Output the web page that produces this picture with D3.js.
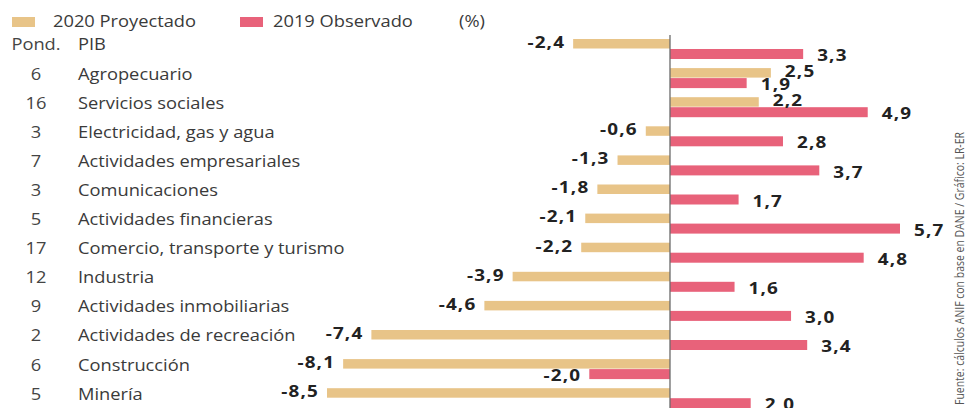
<!DOCTYPE html>
<html>
<head>
<meta charset="utf-8">
<script src="https://cdn.jsdelivr.net/npm/d3@7"></script>
<style>
  body { margin: 0; background: #fff; }
  svg text { font-family: "Open Sans", sans-serif; }
</style>
</head>
<body>
<div id="chart"></div>
<script>
// Data
const categories = ["PIB", "Agropecuario", "Servicios sociales", "Electricidad, gas y agua",
  "Actividades empresariales", "Comunicaciones", "Actividades financieras",
  "Comercio, transporte y turismo", "Industria", "Actividades inmobiliarias",
  "Actividades de recreación", "Construcción", "Minería"];
const weights = ["Pond.", "6", "16", "3", "7", "3", "5", "17", "12", "9", "2", "6", "5"];
const proj2020 = [-2.4, 2.5, 2.2, -0.6, -1.3, -1.8, -2.1, -2.2, -3.9, -4.6, -7.4, -8.1, -8.5];
const obs2019 = [3.3, 1.9, 4.9, 2.8, 3.7, 1.7, 5.7, 4.8, 1.6, 3.0, 3.4, -2.0, 2.0];
const seriesNames = ["2020 Proyectado", "2019 Observado"];

const width = 968, height = 408;
const colors = ["#e8c488", "#e8627a"];
const stretch = 1.18; // the reference type is set wide

const svg = d3.select("#chart").append("svg")
  .attr("width", width)
  .attr("height", height);

const x = d3.scaleLinear()
  .domain([-8.5, 5.7])
  .range([327, 900]);

const y = d3.scaleBand()
  .domain(categories)
  .range([39, 39 + 29.1 * categories.length]);

const fmt = d3.formatLocale({decimal: ",", thousands: ".", grouping: [3], currency: ["", ""], minus: "-"}).format(".1f");

// helper: text that is stretched horizontally
function label(g, tx, ty, str, anchor, opts = {}) {
  const t = g.append("text")
    .attr("transform", `translate(${tx},${ty}) scale(${stretch},1)`)
    .attr("text-anchor", anchor)
    .attr("dy", "0.35em")
    .attr("font-size", opts.size || 15)
    .attr("font-weight", opts.weight || 400)
    .attr("fill", opts.fill || "#3a3a3a")
    .text(str);
  if (opts.ls) t.attr("letter-spacing", opts.ls);
  return t;
}

// Legend
const legend = svg.append("g");
[[12, 53], [240, 273]].forEach((p, i) => {
  legend.append("rect").attr("x", p[0]).attr("y", 17).attr("width", 23).attr("height", 10)
    .attr("fill", colors[i]);
  label(legend, p[1], 22, seriesNames[i], "start", {size: 15.5});
});
label(legend, 459, 22, "(%)", "start", {size: 15.5});

// Row labels
const rows = svg.append("g");
categories.forEach((c, i) => {
  const cy = y(c) + 6;
  label(rows, 36, cy, weights[i], "middle", {size: 15.5, fill: "#444"});
  label(rows, 78, cy, c, "start", {size: 15.5});
});

// Bars
const barH = [9.5, 10];
const barOff = [0, 10];
[proj2020, obs2019].forEach((vals, s) => {
  svg.append("g").selectAll("rect")
    .data(vals)
    .join("rect")
    .attr("x", d => x(Math.min(0, d)))
    .attr("y", (d, i) => y(categories[i]) + barOff[s])
    .attr("width", d => Math.abs(x(d) - x(0)))
    .attr("height", barH[s])
    .attr("fill", colors[s]);
});

// Zero line
svg.append("line")
  .attr("x1", x(0)).attr("x2", x(0))
  .attr("y1", 35).attr("y2", height)
  .attr("stroke", "#6b6b6b")
  .attr("stroke-width", 1.3);

// Value labels
const vals = svg.append("g");
[proj2020, obs2019].forEach((arr, s) => {
  arr.forEach((d, i) => {
    const cy = y(categories[i]) + barOff[s] + barH[s] / 2 + (s === 0 ? -1.5 : 1.5);
    const tx = d < 0 ? x(d) - 8 : x(d) + 14;
    label(vals, tx, cy, fmt(d), d < 0 ? "end" : "start",
      {size: 16, weight: 700, fill: "#222", ls: 1});
  });
});

// Source
svg.append("text")
  .attr("transform", `translate(964,405) rotate(-90)`)
  .attr("font-family", "'Liberation Sans Narrow', 'DejaVu Sans Condensed', sans-serif")
  .attr("font-size", 12.5)
  .attr("fill", "#555")
  .attr("textLength", 273)
  .attr("lengthAdjust", "spacingAndGlyphs")
  .text("Fuente: cálculos ANIF con base en DANE / Gráfico: LR-ER");
</script>
</body>
</html>
